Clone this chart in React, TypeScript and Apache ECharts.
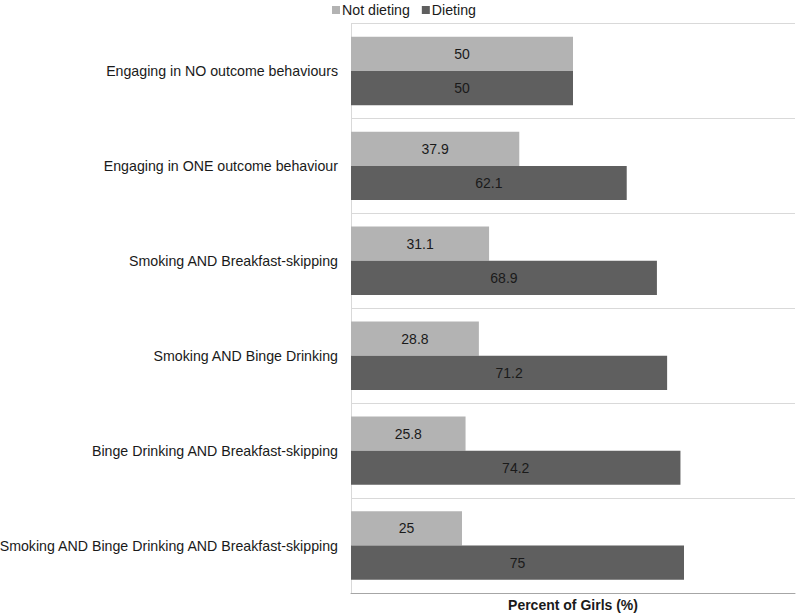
import React, { useEffect, useRef } from "react";
import * as echarts from "echarts";

const categories = [
  "Engaging in NO outcome behaviours",
  "Engaging in ONE outcome behaviour",
  "Smoking AND Breakfast-skipping",
  "Smoking AND Binge Drinking",
  "Binge Drinking AND Breakfast-skipping",
  "Smoking AND Binge Drinking AND Breakfast-skipping",
];
const notDieting = [50, 37.9, 31.1, 28.8, 25.8, 25];
const dieting = [50, 62.1, 68.9, 71.2, 74.2, 75];

const FONT = "'Liberation Sans', Arial, Helvetica, sans-serif";

export default function App() {
  const ref = useRef<HTMLDivElement>(null);
  useEffect(() => {
    document.body.style.margin = "0";
    const chart = echarts.init(ref.current!, null, { renderer: "svg" });
    const label = {
      show: true,
      position: "inside",
      color: "#1a1a1a",
      fontSize: 14,
      fontFamily: FONT,
    };
    chart.setOption({
      animation: false,
      textStyle: { fontFamily: FONT },
      legend: {
        top: -2,
        left: 327,
        itemWidth: 8,
        itemHeight: 8,
        itemGap: 12,
        icon: "rect",
        textStyle: { fontSize: 14.2, color: "#1a1a1a", fontFamily: FONT, padding: [0, 0, 0, -3] },
        data: ["Not dieting", "Dieting"],
      },
      grid: {
        left: 351,
        right: 3,
        top: 23.5,
        bottom: 20,
        containLabel: false,
        outerBoundsMode: "none",
      },
      xAxis: {
        type: "value",
        min: 0,
        max: 100,
        axisLabel: { show: false },
        axisTick: { show: false },
        splitLine: { show: false },
        axisLine: { show: true, lineStyle: { color: "#a6a6a6", width: 1 } },
        name: "Percent of Girls (%)",
        nameLocation: "middle",
        nameGap: 5,
        nameTextStyle: {
          fontSize: 14,
          fontWeight: "bold",
          color: "#1a1a1a",
          fontFamily: FONT,
          verticalAlign: "top",
        },
      },
      yAxis: {
        type: "category",
        inverse: true,
        data: categories,
        axisTick: { show: false },
        axisLine: { show: true, lineStyle: { color: "#d9d9d9" } },
        splitLine: { show: true, lineStyle: { color: "#d9d9d9", width: 1 } },
        axisLabel: { fontSize: 14.2, color: "#1a1a1a", margin: 13, fontFamily: FONT },
      },
      series: [
        {
          name: "Not dieting",
          type: "bar",
          data: notDieting,
          itemStyle: { color: "#b3b3b3" },
          barGap: "0%",
          barCategoryGap: "28%",
          label,
        },
        {
          name: "Dieting",
          type: "bar",
          data: dieting,
          itemStyle: { color: "#5f5f5f" },
          barGap: "0%",
          barCategoryGap: "28%",
          label,
        },
      ],
    });
    return () => chart.dispose();
  }, []);
  return <div ref={ref} style={{ width: 798, height: 613 }} />;
}
